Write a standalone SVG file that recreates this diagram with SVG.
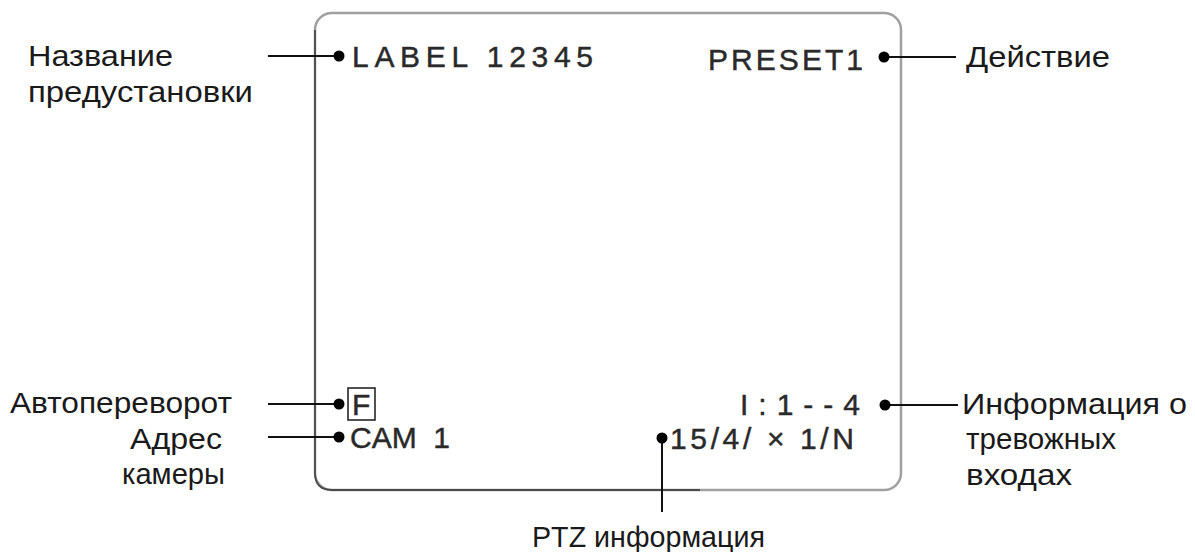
<svg xmlns="http://www.w3.org/2000/svg" width="1195" height="552" viewBox="0 0 1195 552">
<style>
.lbl{font-family:"Liberation Sans",Arial,sans-serif;font-size:30px;fill:#1a1a1a}
.osd{font-family:"Liberation Sans",Arial,sans-serif;font-size:30px;fill:#2a2a2a;stroke:#2a2a2a;stroke-width:0.45}
.ln{stroke:#111;stroke-width:2;fill:none}
.dot{fill:#000}
</style>
<rect width="1195" height="552" fill="#fff"/>
<g id="screen">
<rect x="315" y="13" width="586" height="477" rx="17" fill="none" stroke="#a0a0a0" stroke-width="2.5"/>
<path d="M315 30 V473 Q315 490 332 490 H700" fill="none" stroke="#4a4a4a" stroke-width="1.8"/>
</g>
<g id="connectors">
<line class="ln" x1="268" y1="56" x2="339" y2="56"/>
<line class="ln" x1="884" y1="57" x2="956" y2="57"/>
<line class="ln" x1="268" y1="404" x2="339" y2="404"/>
<line class="ln" x1="268" y1="437" x2="339" y2="437"/>
<line class="ln" x1="885" y1="405" x2="958" y2="405"/>
<line class="ln" x1="662" y1="438" x2="662" y2="512"/>
<circle class="dot" cx="339" cy="56" r="5.5"/>
<circle class="dot" cx="884" cy="57" r="5.5"/>
<circle class="dot" cx="339" cy="404" r="5.5"/>
<circle class="dot" cx="339" cy="437" r="5.5"/>
<circle class="dot" cx="885" cy="405" r="5.5"/>
<circle class="dot" cx="662" cy="438" r="5.5"/>
</g>
<g id="label-name">
<text class="osd" x="352" y="67" textLength="241" lengthAdjust="spacing">LABEL 12345</text>
<text class="lbl" x="28" y="66" textLength="145" lengthAdjust="spacingAndGlyphs">Название</text>
<text class="lbl" x="28" y="102" textLength="225" lengthAdjust="spacingAndGlyphs">предустановки</text>
</g>
<g id="action">
<text class="osd" x="708" y="70" textLength="155" lengthAdjust="spacing">PRESET1</text>
<text class="lbl" x="966" y="67" textLength="144" lengthAdjust="spacingAndGlyphs">Действие</text>
</g>
<g id="autoflip">
<rect x="348" y="388" width="27" height="32" fill="none" stroke="#262626" stroke-width="1.6"/>
<text class="osd" x="352" y="415">F</text>
<text class="lbl" x="10" y="413" textLength="222" lengthAdjust="spacingAndGlyphs">Автопереворот</text>
</g>
<g id="cam-address">
<text class="osd" x="350" y="448" xml:space="preserve">CAM  1</text>
<text class="lbl" x="130" y="449" textLength="92" lengthAdjust="spacingAndGlyphs">Адрес</text>
<text class="lbl" x="122" y="484" textLength="103" lengthAdjust="spacingAndGlyphs">камеры</text>
</g>
<g id="alarm">
<text class="osd" x="740" y="415" textLength="120" lengthAdjust="spacing">I : 1 - - 4</text>
<text class="lbl" x="962" y="414" textLength="225" lengthAdjust="spacingAndGlyphs">Информация о</text>
<text class="lbl" x="966" y="449" textLength="150" lengthAdjust="spacingAndGlyphs">тревожных</text>
<text class="lbl" x="966" y="485" textLength="106" lengthAdjust="spacingAndGlyphs">входах</text>
</g>
<g id="ptz">
<text class="osd" x="670" y="449" textLength="184" lengthAdjust="spacing">15/4/ × 1/N</text>
<text class="lbl" x="532" y="547" textLength="233" lengthAdjust="spacingAndGlyphs">PTZ информация</text>
</g>
</svg>
